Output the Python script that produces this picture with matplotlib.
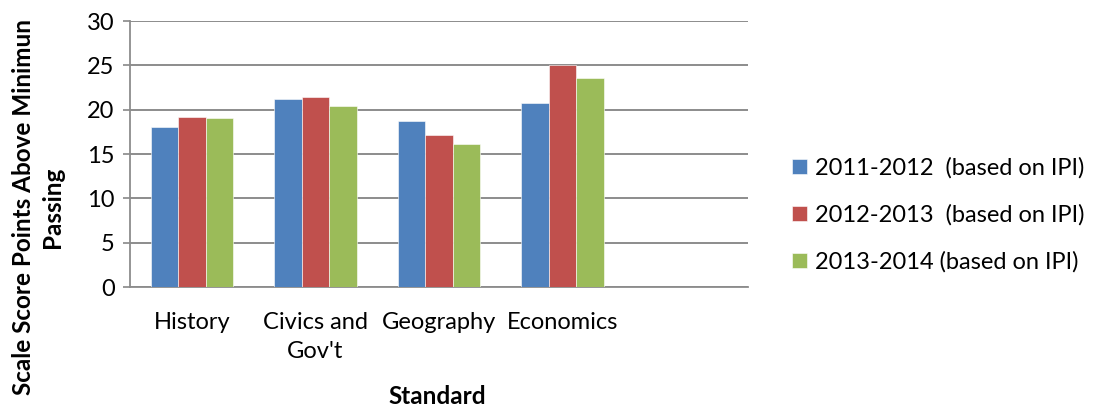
import matplotlib
matplotlib.use("Agg")
import matplotlib.pyplot as plt
import numpy as np

# Category slots (the fifth slot is left empty on the axis)
categories = ["History", "Civics and\nGov't", "Geography", "Economics", ""]
series_names = ["2011-2012  (based on IPI)",
                "2012-2013  (based on IPI)",
                "2013-2014 (based on IPI)"]
values_2011 = [18.0, 21.2, 18.7, 20.8]
values_2012 = [19.2, 21.4, 17.1, 25.0]
values_2013 = [19.1, 20.4, 16.1, 23.6]
colors = ["#4F81BD", "#C0504D", "#9BBB59"]
y_ticks = [0, 5, 10, 15, 20, 25, 30]

plt.rcParams['font.family'] = ['Lato', 'DejaVu Sans']

fig = plt.figure(figsize=(10.93, 4.11), dpi=100)
ax = fig.add_axes([130 / 1093, 1 - 287 / 411, (748 - 130) / 1093, (287 - 21) / 411])

n_slots = len(categories)
all_series = [values_2011, values_2012, values_2013]
group_w = 1 / 1.5
bar_w = group_w / len(all_series)
for i, (vals, name, c) in enumerate(zip(all_series, series_names, colors)):
    x = np.arange(len(vals)) - group_w / 2 + bar_w * (i + 0.5)
    ax.bar(x, vals, width=bar_w, color=c, label=name, zorder=3,
           edgecolor='white', linewidth=0.4)

ax.set_xlim(-0.5, n_slots - 0.5)
ax.set_ylim(0, 30)
ax.set_yticks(y_ticks)
ax.set_xticks(np.arange(n_slots))
ax.set_xticklabels(categories, fontsize=17, linespacing=1.45, va='top')
ax.tick_params(axis='x', length=0, pad=18)
ax.tick_params(axis='y', labelsize=17, length=5, width=1.2, color='#888888', pad=6)

ax.grid(axis='y', color='#8c8c8c', linewidth=1.4, zorder=0)
for s in ['top', 'right']:
    ax.spines[s].set_visible(False)
for s in ['left', 'bottom']:
    ax.spines[s].set_color('#8c8c8c')
    ax.spines[s].set_linewidth(1.3)

ax.set_ylabel("Scale Score Points Above Minimun\nPassing", fontsize=17.5,
              fontweight='bold', linespacing=1.3)
ax.yaxis.set_label_coords(-0.107, 0.30)
ax.set_xlabel("Standard", fontsize=17.5, fontweight='bold')
ax.xaxis.set_label_coords(0.497, -0.37)

leg = fig.legend(loc='center left', bbox_to_anchor=(783 / 1093, 1 - 215 / 411),
                 frameon=False, fontsize=17, handlelength=0.62, handleheight=0.62,
                 handletextpad=0.35, labelspacing=1.08, borderaxespad=0)

fig.savefig("out.png", dpi=100)
